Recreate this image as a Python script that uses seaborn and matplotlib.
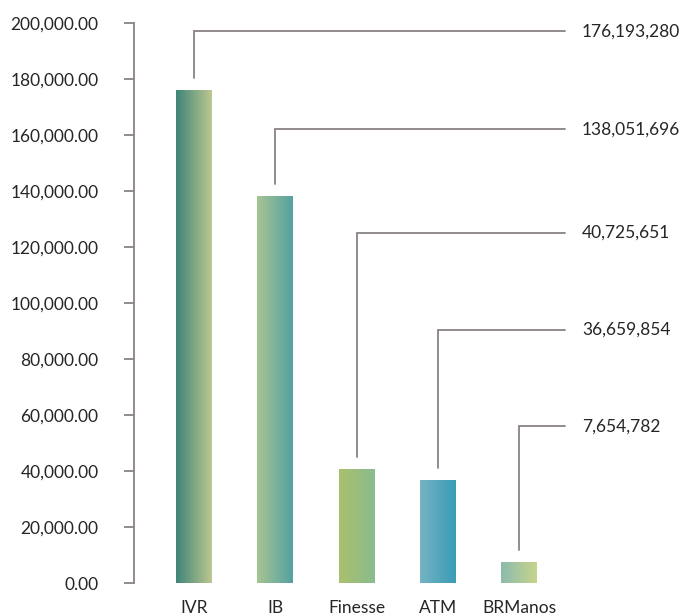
import numpy as np
import pandas as pd
import matplotlib
matplotlib.use("Agg")
import matplotlib.pyplot as plt
import seaborn as sns
from matplotlib.colors import LinearSegmentedColormap

# Annual transaction totals per channel
channels = ["IVR", "IB", "Finesse", "ATM", "BRManos"]
totals = [176193280, 138051696, 40725651, 36659854, 7654782]

# Height (axis units, thousands) where each callout line turns right
callout_levels = [197000, 162000, 125000, 90500, 56000]

# Left -> right gradient stops for each bar
gradients = [
    ("#3f8578", "#bcc78f"),
    ("#a6c593", "#55a1a1"),
    ("#a9c16c", "#8bbb8e"),
    ("#74b3c2", "#3b9bb7"),
    ("#8dbbad", "#c6d48c"),
]

df = pd.DataFrame({"channel": channels,
                   "value": [t / 1000 for t in totals]})

sns.set_theme(style="white")
plt.rcParams["font.family"] = ["Lato", "DejaVu Sans"]

fig = plt.figure(figsize=(6.85, 6.15), dpi=100)
ax = fig.add_axes([134 / 685, 32 / 615, 551 / 685, 560 / 615])

sns.barplot(data=df, x="channel", y="value", ax=ax, width=0.443,
            color="white", saturation=1)

ymax = 200000
ax.set_ylim(0, ymax)
ax.set_xlim(-0.7385, 6.043)

# Paint each bar with a horizontal gradient clipped to its rectangle
for patch, (c0, c1) in zip(ax.patches, gradients):
    x0, w, h = patch.get_x(), patch.get_width(), patch.get_height()
    cmap = LinearSegmentedColormap.from_list("g", [c0, c1])
    grad = np.linspace(0, 1, 64).reshape(1, -1)
    im = ax.imshow(grad, cmap=cmap, extent=[x0, x0 + w, 0, h],
                   aspect="auto", zorder=2, interpolation="bicubic")
    im.set_clip_path(patch)
    patch.set_facecolor("none")
    patch.set_edgecolor("none")

ax.set_ylim(0, ymax)
ax.set_xlim(-0.7385, 6.043)

# Callout lines from each bar up and across to its total
line_color = "#8a8282"
text_color = "#262626"
gap = 4300
x_end = 4.566
x_text = 4.775
for i, (v, lvl, t) in enumerate(zip(df["value"], callout_levels, totals)):
    ax.plot([i, i, x_end], [v + gap, lvl, lvl], color=line_color,
            lw=1.3, solid_joinstyle="miter", clip_on=False, zorder=3)
    ax.text(x_text, lvl, f"{t:,}", ha="left", va="center",
            fontsize=12.5, color=text_color, clip_on=False)

ax.set_yticks(np.arange(0, ymax + 1, 20000))
ax.set_yticklabels([f"{v:,.2f}" for v in np.arange(0, ymax + 1, 20000)])
ax.set_xlabel("")
ax.set_ylabel("")

for side in ["top", "right", "bottom"]:
    ax.spines[side].set_visible(False)
ax.spines["left"].set_color(line_color)
ax.spines["left"].set_linewidth(1.3)

ax.tick_params(axis="y", direction="out", length=7, width=1.3,
               color=line_color, pad=18.5, labelsize=12.5,
               labelcolor=text_color, left=True)
ax.tick_params(axis="x", length=0, pad=12, labelsize=12.5,
               labelcolor=text_color)

fig.savefig("out.png", dpi=100, facecolor="white")
